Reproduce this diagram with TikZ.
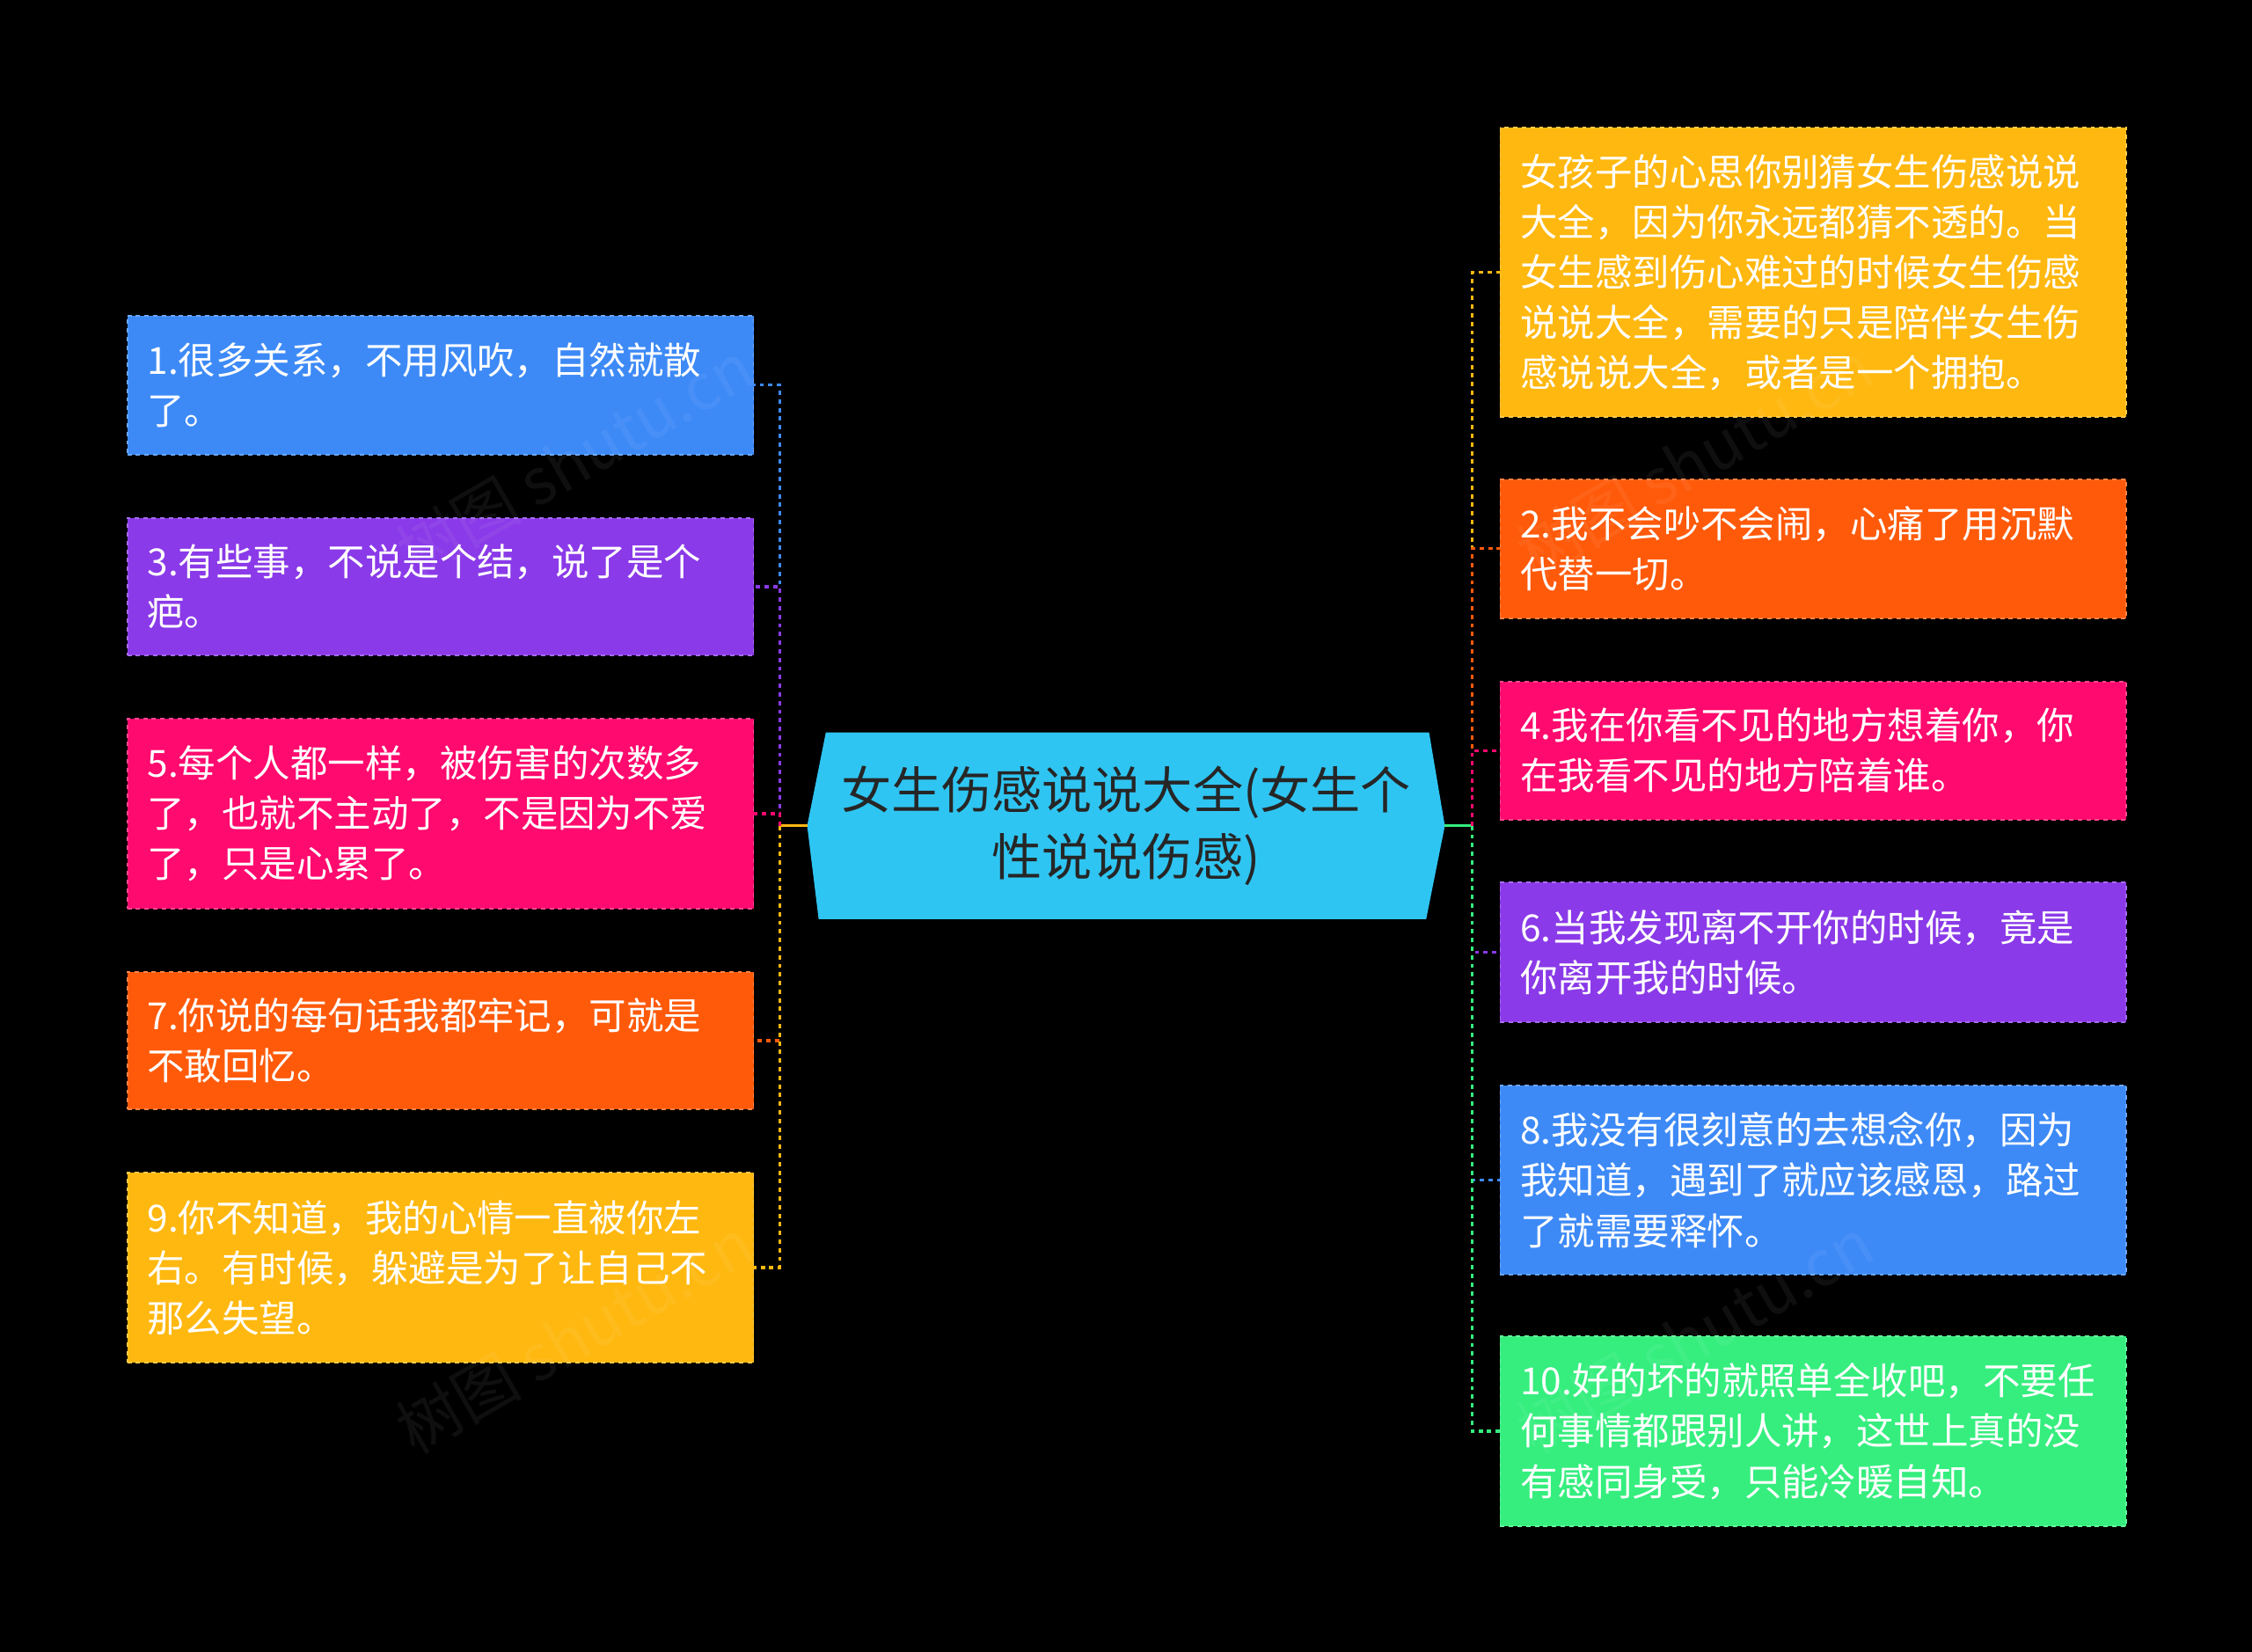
\documentclass[tikz,border=0pt]{standalone}
\usepackage{fontspec}
\newfontfamily\cjk{Noto Sans CJK SC}
\begin{document}
\begin{tikzpicture}[x=1pt,y=-1pt,
  leaf/.style={anchor=north west,text width=408pt,inner xsep=14pt,inner ysep=0pt,align=left,font=\cjk\fontsize{26}{35}\selectfont,text=white,draw=#1!75!white,dashed,line width=1.2pt,fill=#1},
  conn/.style={draw=#1,dashed,line width=2pt}]
\definecolor{cb}{HTML}{3D8AF7}\definecolor{cp}{HTML}{8A3AE8}\definecolor{ck}{HTML}{FF0A6E}
\definecolor{co}{HTML}{FF5A0A}\definecolor{cy}{HTML}{FFB80F}\definecolor{cg}{HTML}{35EE7E}
\definecolor{cc}{HTML}{2FC5F2}
\fill[black] (0,0) rectangle (1568,1150);
\useasboundingbox (0,0) rectangle (1568,1150);
% center
\fill[cc] (562,575) -- (575,510) -- (995,510) -- (1006,575) -- (993,640) -- (570,640) -- cycle;
\node[font=\cjk\fontsize{35}{47}\selectfont,text=black!85,align=center] (c) at (784,575) {女生伤感说说大全(女生个\\性说说伤感)};
\coordinate (cl) at (562,575); \coordinate (cr) at (1006,575);
% left
\node[leaf=cb,minimum height=97pt] (l1) at (88,219) {1.很多关系，不用风吹，自然就散\\了。};
\node[leaf=cp,minimum height=96pt] (l3) at (88,360) {3.有些事，不说是个结，说了是个\\疤。};
\node[leaf=ck,minimum height=132pt] (l5) at (88,500) {5.每个人都一样，被伤害的次数多\\了，也就不主动了，不是因为不爱\\了，只是心累了。};
\node[leaf=co,minimum height=96pt] (l7) at (88,676) {7.你说的每句话我都牢记，可就是\\不敢回忆。};
\node[leaf=cy,minimum height=132pt] (l9) at (88,816) {9.你不知道，我的心情一直被你左\\右。有时候，躲避是为了让自己不\\那么失望。};
% right
\node[leaf=cy,minimum height=202pt] (r0) at (1044,88) {女孩子的心思你别猜女生伤感说说\\大全，因为你永远都猜不透的。当\\女生感到伤心难过的时候女生伤感\\说说大全，需要的只是陪伴女生伤\\感说说大全，或者是一个拥抱。};
\node[leaf=co,minimum height=97pt] (r2) at (1044,333) {2.我不会吵不会闹，心痛了用沉默\\代替一切。};
\node[leaf=ck,minimum height=96pt] (r4) at (1044,474) {4.我在你看不见的地方想着你，你\\在我看不见的地方陪着谁。};
\node[leaf=cp,minimum height=97pt] (r6) at (1044,614) {6.当我发现离不开你的时候，竟是\\你离开我的时候。};
\node[leaf=cb,minimum height=132pt] (r8) at (1044,755) {8.我没有很刻意的去想念你，因为\\我知道，遇到了就应该感恩，路过\\了就需要释怀。};
\node[leaf=cg,minimum height=132pt] (r10) at (1044,930) {10.好的坏的就照单全收吧，不要任\\何事情都跟别人讲，这世上真的没\\有感同身受，只能冷暖自知。};
% connectors
\draw[cy,line width=2pt] (cl) -- (543,575);
\draw[cg,line width=2pt] (cr) -- (1025,575);
\foreach \n/\col in {l1/cb,l3/cp,l5/ck,l7/co,l9/cy}
  \draw[conn=\col] (543,575) |- (\n.east);
\foreach \n/\col in {r0/cy,r2/co,r4/ck,r6/cp,r8/cb,r10/cg}
  \draw[conn=\col] (1025,575) |- (\n.west);
% watermarks
\foreach \p in {(400,320),(400,930),(1180,320),(1180,930)}
  \node[rotate=30,font=\cjk\fontsize{44}{50}\selectfont,text=white,opacity=0.06] at \p {树图 shutu.cn};
\end{tikzpicture}
\end{document}
